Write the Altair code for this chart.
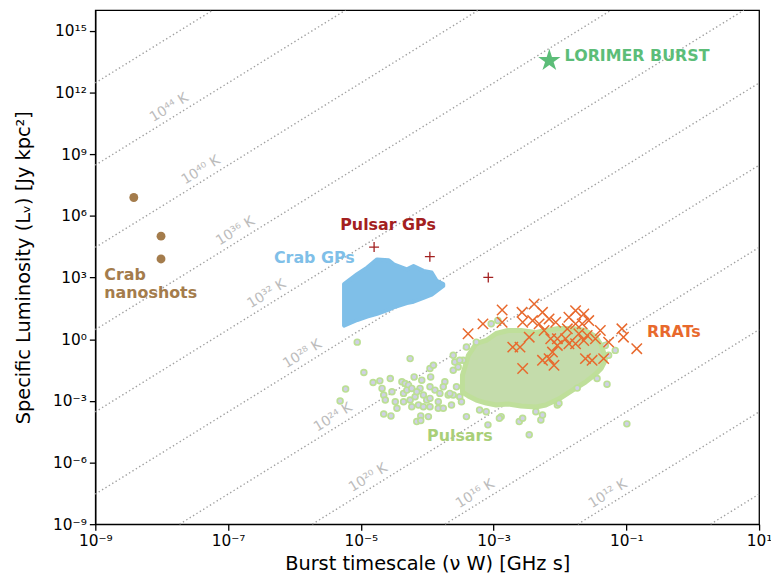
import altair as alt
import pandas as pd
import numpy as np

# ---------------- data (log10 values) ----------------
# Crab nanoshots
nano_logw = [-8.42, -8.01, -8.01]
nano_logl = [6.89, 5.01, 3.90]

# Lorimer burst
lorimer_logw = [-2.16]
lorimer_logl = [13.55]

# Pulsar giant pulses
pgp_logw = [-4.80, -3.96, -3.08]
pgp_logl = [4.48, 4.01, 3.00]

# Crab giant pulses (dense cloud: upper / lower envelope)
crab_logw = [-5.253, -5.054, -4.904, -4.755, -4.580, -4.505, -4.306, -4.206, -4.057, -3.933, -3.858, -3.758]
crab_top = [2.68, 3.16, 3.48, 3.88, 3.84, 3.64, 3.40, 3.56, 3.32, 3.24, 2.84, 2.68]
crab_bot = [0.66, 0.93, 1.10, 1.23, 1.43, 1.55, 1.75, 1.82, 2.01, 2.16, 2.35, 2.59]

# Pulsars: dense core envelope
psr_core_logw = [-3.469, -3.380, -3.260, -3.111, -2.961, -2.782, -2.587, -2.363, -2.214, -2.019, -1.810, -1.616, -1.466, -1.377, -1.317]
psr_core_top = [-1.754, -0.788, -0.208, -0.063, 0.275, 0.420, 0.420, 0.323, 0.420, 0.517, 0.517, 0.420, 0.130, -0.305, -0.884]
psr_core_bot = [-2.575, -2.768, -2.962, -3.107, -3.203, -3.155, -3.251, -3.300, -3.203, -2.913, -2.479, -2.092, -1.706, -1.416, -1.029]

# Pulsars: individual points
psr_logw = [-5.054, -4.257, -4.954, -5.229, -5.312, -4.815, -4.714, -4.556, -4.680, -4.655,
            -4.631, -4.531, -4.481, -4.456, -4.655, -4.546, -4.381, -4.332, -4.281, -4.356,
            -4.306, -4.232, -4.356, -4.257, -4.182, -4.197, -4.082, -4.108, -4.157, -4.057,
            -4.007, -3.958, -4.232, -4.131, -4.057, -4.157, -4.097, -4.097, -3.958, -3.948,
            -3.958, -3.883, -3.809, -3.734, -3.758, -3.833, -3.833, -3.758, -3.634, -3.683,
            -3.608, -3.958, -3.608, -3.608, -3.907, -3.584, -3.085, -2.886, -2.613, -2.463,
            -2.288, -2.039, -1.740, -1.291, -0.992, -1.167, -1.317, -1.441, -1.267, -3.659,
            -3.510, -3.484, -3.559, -3.534, -3.459, -3.409, -3.211, -3.111, -2.912, -2.562,
            -2.363, -2.263, -2.015, -3.036, -2.936, -3.260, -3.510, -3.409, -3.982]
psr_logl = [-0.145, -0.947, -1.623, -2.430, -3.010, -2.106, -2.029, -1.913, -2.396, -2.720,
            -2.962, -2.561, -3.044, -3.362, -3.638, -3.734, -2.077, -2.155, -2.237, -2.638,
            -2.479, -2.396, -3.044, -2.962, -2.802, -1.836, -1.995, -2.396, -2.561, -2.720,
            -2.962, -2.880, -3.285, -3.203, -3.285, -4.010, -3.734, -3.962, -1.430, -1.836,
            -2.319, -2.479, -2.638, -2.077, -2.319, -3.044, -3.362, -3.362, -3.203, -2.720,
            -2.720, -3.285, -0.788, -1.512, -1.271, -1.111, -4.169, -3.768, -4.010, -4.652,
            -3.928, -3.203, -2.382, -2.189, -4.121, -0.546, -0.305, -1.913, -0.788, -2.638,
            -2.802, -3.044, -2.319, -1.353, -1.029, -3.768, -3.445, -3.527, -3.846, -3.846,
            -3.527, -3.686, -3.121, 0.744, 0.903, -0.145, -1.029, -0.387, -3.768]

# RRATs
rrat_logw = [-3.384, -3.160, -2.871, -2.871, -2.711, -2.572, -2.562, -2.602, -2.562, -2.389,
             -2.412, -2.463, -2.263, -2.314, -2.239, -2.164, -2.064, -2.263, -2.164, -2.090,
             -2.113, -2.139, -2.039, -2.039, -1.865, -1.889, -1.915, -1.865, -1.765, -1.765,
             -1.716, -1.765, -1.641, -1.665, -1.641, -1.566, -1.590, -1.616, -1.516, -1.466,
             -1.392, -1.342, -1.267, -1.067, -1.043, -0.843]
rrat_logl = [0.261, 0.744, 1.420, 0.821, -0.387, 1.304, 0.821, -0.387, -1.430, 1.710,
             0.903, 0.096, 1.304, 0.744, 0.420, 0.985, 0.821, -1.029, -0.947, -1.271,
             -0.628, 0.019, 0.019, -0.305, 1.063, 0.502, 0.019, -0.223, 1.386, 0.744,
             0.261, -0.223, 1.227, 0.744, -0.063, 0.903, 0.178, -0.947, -1.029, 0.019,
             0.420, -0.947, -0.145, 0.502, 0.096, -0.464]

# Brightness temperature lines (log10 T in K) and their labels
tb_line_exps = [8, 12, 16, 20, 24, 28, 32, 36, 40, 44, 48, 52]
tb_label_exps = [44, 40, 36, 32, 28, 24, 20, 16, 12]
tb_label_logw = [-7.81, -7.33, -6.81, -6.34, -5.80, -5.34, -4.81, -3.20, -1.20]

# Text annotations (log10 coordinates)
ann_text = ["Crab GPs", "Pulsar GPs", "Crab", "nanoshots", "LORIMER BURST", "RRATs", "Pulsars"]
ann_logw = [-5.70, -4.59, -8.865, -8.865, -1.93, -0.689, -3.507]
ann_logl = [3.95, 5.54, 3.125, 2.256, 13.75, 0.323, -4.70]
ann_color = ["#7fbfe8", "#a32020", "#a47c4c", "#a47c4c", "#5cbd78", "#e8692d", "#a9cf78"]
ann_align = ["center", "center", "left", "left", "left", "left", "center"]

x_ticks = [1e-9, 1e-7, 1e-5, 1e-3, 1e-1, 1e1]
y_ticks = [1e-9, 1e-6, 1e-3, 1e0, 1e3, 1e6, 1e9, 1e12, 1e15]
X_DOMAIN_EXP = [-9, 1]
Y_DOMAIN_EXP = [-9, 16]

# ---------------- physics: L = T * 2k (GHz s)^2 / (Jy kpc^2) * (nu W)^2 ----------------
k_B = 1.380649e-23
Jy = 1e-26
kpc = 3.0857e19
LOG_K = np.log10(2 * k_B * 1e18 / (Jy * kpc ** 2))

STAR = ("M0,-1L0.2245,-0.309L0.9511,-0.309L0.3633,0.118L0.5878,0.809L0,0.382"
        "L-0.5878,0.809L-0.3633,0.118L-0.9511,-0.309L-0.2245,-0.309Z")
PLUS = "M-1,0L1,0M0,-1L0,1"
CROSS = "M-1,-1L1,1M-1,1L1,-1"


def pw(v):
    return [float(10.0 ** a) for a in v]


SUP = str.maketrans("0123456789-", "⁰¹²³⁴⁵⁶⁷⁸⁹⁻")


def sup(n):
    return str(n).translate(SUP)


def label_expr(ticks):
    parts = []
    for t in ticks:
        e = int(round(np.log10(t)))
        parts.append(f"round(log(datum.value)/LN10) == {e} ? '10{sup(e)}'")
    return " : ".join(parts) + " : ''"


FONT = "DejaVu Sans"
AXIS_STYLE = dict(
    domainColor="black", domainWidth=1.3, tickColor="black", tickWidth=1.3, tickSize=6,
    labelFont=FONT, labelFontSize=15.5, labelColor="black",
    titleFont=FONT, titleFontSize=19.5, titleFontWeight="normal", titleColor="black",
    grid=False, labelFlush=False, labelOverlap=False,
)
xscale = alt.Scale(type="log", domain=[10.0 ** X_DOMAIN_EXP[0], 10.0 ** X_DOMAIN_EXP[1]], nice=False)
yscale = alt.Scale(type="log", domain=[10.0 ** Y_DOMAIN_EXP[0], 10.0 ** Y_DOMAIN_EXP[1]], nice=False)
xaxis = alt.Axis(values=x_ticks, labelExpr=label_expr(x_ticks), title="Burst timescale (ν W) [GHz s]",
                 labelPadding=3, titlePadding=6, **AXIS_STYLE)
yaxis = alt.Axis(values=y_ticks, labelExpr=label_expr(y_ticks), title="Specific Luminosity (Lᵥ) [Jy kpc²]",
                 labelPadding=3, titlePadding=19, **AXIS_STYLE)


def X(with_axis=False):
    if with_axis:
        return alt.X("x:Q", scale=xscale, axis=xaxis)
    return alt.X("x:Q", scale=xscale)


def Y(with_axis=False):
    if with_axis:
        return alt.Y("y:Q", scale=yscale, axis=yaxis)
    return alt.Y("y:Q", scale=yscale)


# temperature lines, clipped to the plotting box (in log space)
seg = {"x": [], "y": [], "x2": [], "y2": []}
for e in tb_line_exps:
    a = e + LOG_K
    xs = max(X_DOMAIN_EXP[0], (Y_DOMAIN_EXP[0] - a) / 2)
    xe = min(X_DOMAIN_EXP[1], (Y_DOMAIN_EXP[1] - a) / 2)
    if xs < xe:
        seg["x"].append(float(10.0 ** xs))
        seg["y"].append(float(10.0 ** (a + 2 * xs)))
        seg["x2"].append(float(10.0 ** xe))
        seg["y2"].append(float(10.0 ** (a + 2 * xe)))
tb_lines = alt.Chart(pd.DataFrame(seg)).mark_rule(
    color="#a0a0a0", strokeWidth=1.4, strokeDash=[1.4, 2.6]
).encode(x=X(True), y=Y(True), x2="x2:Q", y2="y2:Q")

tb_lab_df = pd.DataFrame({
    "x": pw(tb_label_logw),
    "y": [float(10.0 ** (e + LOG_K + 2 * w)) for e, w in zip(tb_label_exps, tb_label_logw)],
    "text": [f"10{sup(e)} K" for e in tb_label_exps],
})
tb_labels = alt.Chart(tb_lab_df).mark_text(
    angle=328.25, dy=-10, align="center", baseline="middle", font=FONT, fontSize=14, color="#bcbcbc"
).encode(x=X(), y=Y(), text="text:N")

crab_df = pd.DataFrame({"x": pw(crab_logw), "y": pw(crab_top), "y2": pw(crab_bot)})
crab = alt.Chart(crab_df).mark_area(
    color="#7fbfe8", stroke="#7fbfe8", strokeWidth=4, strokeJoin="round", opacity=1
).encode(x=X(), y=Y(), y2="y2:Q")

core_df = pd.DataFrame({"x": pw(psr_core_logw), "y": pw(psr_core_top), "y2": pw(psr_core_bot)})
core = alt.Chart(core_df).mark_area(
    color="#c4dcab", stroke="#bfdf9a", strokeWidth=5, strokeJoin="round", opacity=1
).encode(x=X(), y=Y(), y2="y2:Q")

psr_df = pd.DataFrame({"x": pw(psr_logw), "y": pw(psr_logl)})
psr = alt.Chart(psr_df).mark_point(
    shape="circle", filled=True, fill="#cfd0e6", stroke="#bcdf95", strokeWidth=1.7, size=34, opacity=1
).encode(x=X(), y=Y())

rrat_df = pd.DataFrame({"x": pw(rrat_logw), "y": pw(rrat_logl)})
rrat = alt.Chart(rrat_df).mark_point(
    shape=CROSS, filled=False, color="#e8692d", strokeWidth=1.5, size=110, opacity=1
).encode(x=X(), y=Y())

pgp_df = pd.DataFrame({"x": pw(pgp_logw), "y": pw(pgp_logl)})
pgp = alt.Chart(pgp_df).mark_point(
    shape=PLUS, filled=False, color="#a32020", strokeWidth=1.3, size=100, opacity=1
).encode(x=X(), y=Y())

nano_df = pd.DataFrame({"x": pw(nano_logw), "y": pw(nano_logl)})
nano = alt.Chart(nano_df).mark_circle(color="#a47c4c", size=80, opacity=1).encode(x=X(), y=Y())

lor_df = pd.DataFrame({"x": pw(lorimer_logw), "y": pw(lorimer_logl)})
lor = alt.Chart(lor_df).mark_point(
    shape=STAR, filled=True, color="#5cbd78", size=560, opacity=1
).encode(x=X(), y=Y())

ann_df = pd.DataFrame({"x": pw(ann_logw), "y": pw(ann_logl), "text": ann_text,
                       "color": ann_color, "align": ann_align})
ann_left = alt.Chart(ann_df[ann_df["align"] == "left"]).mark_text(
    align="left", baseline="middle", font=FONT, fontSize=16, fontWeight="bold"
).encode(x=X(), y=Y(), text="text:N", color=alt.Color("color:N", scale=None))
ann_center = alt.Chart(ann_df[ann_df["align"] == "center"]).mark_text(
    align="center", baseline="middle", font=FONT, fontSize=16, fontWeight="bold"
).encode(x=X(), y=Y(), text="text:N", color=alt.Color("color:N", scale=None))

chart = alt.layer(tb_lines, tb_labels, crab, core, psr, rrat, pgp, nano, lor, ann_left, ann_center).properties(
    width=669, height=518,
    autosize=alt.AutoSizeParams(type="none"),
    padding={"left": 88, "top": 0, "right": 12, "bottom": 51},
).configure_view(stroke="black", strokeWidth=1.3)

chart.save("out.html", embed_options={"renderer": "svg", "actions": False})
